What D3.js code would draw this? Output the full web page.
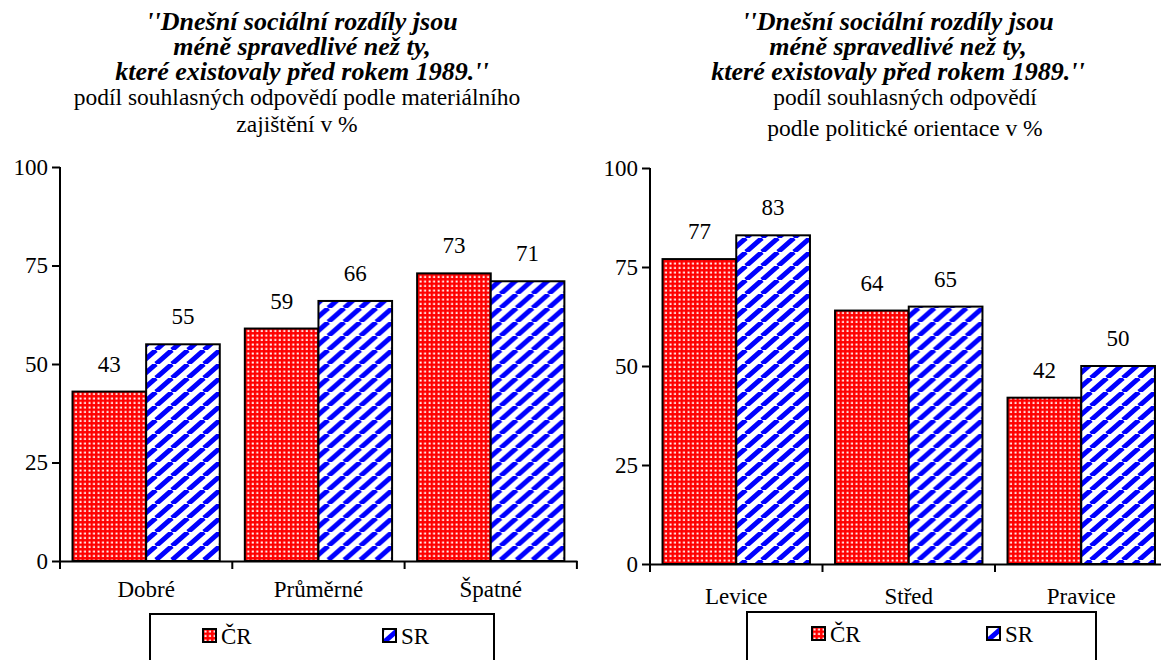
<!DOCTYPE html>
<html>
<head>
<meta charset="utf-8">
<script src="https://cdn.jsdelivr.net/npm/d3@7"></script>
<style>
  body { margin: 0; background: #fff; }
</style>
</head>
<body>
<script>
// Data
const seriesNames = ["ČR", "SR"];
const yTicks = [0, 25, 50, 75, 100];

const leftCategories = ["Dobré", "Průměrné", "Špatné"];
const leftCR = [43, 59, 73];
const leftSR = [55, 66, 71];
const leftTitle = ["''Dnešní sociální rozdíly jsou", "méně spravedlivé než ty,", "které existovaly před rokem 1989.''"];
const leftSubtitle = ["podíl souhlasných odpovědí podle materiálního", "zajištění v %"];

const rightCategories = ["Levice", "Střed", "Pravice"];
const rightCR = [77, 64, 42];
const rightSR = [83, 65, 50];
const rightTitle = ["''Dnešní sociální rozdíly jsou", "méně spravedlivé než ty,", "které existovaly před rokem 1989.''"];
const rightSubtitle = ["podíl souhlasných odpovědí", "podle politické orientace v %"];

// Size
const w = 1161, h = 660;
const serif = "Liberation Serif";

const svg = d3.select("body").append("svg")
  .attr("width", w)
  .attr("height", h);

// Patterns
const defs = svg.append("defs");

const dots = defs.append("pattern")
  .attr("id", "pat-cr")
  .attr("patternUnits", "userSpaceOnUse")
  .attr("width", 4.5)
  .attr("height", 4.5);
dots.append("rect").attr("width", 4.5).attr("height", 4.5).attr("fill", "#ff0000");
dots.append("rect").attr("x", 1.5).attr("y", 1.5).attr("width", 2).attr("height", 2).attr("fill", "#fff");

const pw = 16, ph = 14;
const stripes = defs.append("pattern")
  .attr("id", "pat-sr")
  .attr("patternUnits", "userSpaceOnUse")
  .attr("width", pw)
  .attr("height", ph);
stripes.append("rect").attr("width", pw).attr("height", ph).attr("fill", "#fff");
stripes.append("path")
  .attr("d", [-pw, 0, pw].map(o => `M${o},${ph} L${o + pw},0`).join(" "))
  .attr("stroke", "#0000ff")
  .attr("stroke-width", 5);

const fills = ["url(#pat-cr)", "url(#pat-sr)"];

// One chart
function drawChart(cfg) {
  const g = svg.append("g");

  const y = d3.scaleLinear().domain([0, 100]).range([cfg.y0, cfg.y100]);
  const x = d3.scaleBand()
    .domain(cfg.categories)
    .range([cfg.axisX, cfg.axisX + 3 * cfg.step]);
  const xs = d3.scaleBand()
    .domain(seriesNames)
    .range([0, x.bandwidth()])
    .paddingOuter(0.17);

  // titles
  g.selectAll(".title")
    .data(cfg.title)
    .enter()
    .append("text")
    .attr("x", cfg.cx)
    .attr("y", (d, i) => 30 + i * 25)
    .attr("text-anchor", "middle")
    .style("font-family", serif)
    .style("font-size", "26px")
    .style("font-weight", "bold")
    .style("font-style", "italic")
    .text(d => d);

  g.selectAll(".subtitle")
    .data(cfg.subtitle)
    .enter()
    .append("text")
    .attr("x", cfg.subX)
    .attr("y", (d, i) => 105 + i * cfg.subGap)
    .attr("text-anchor", "middle")
    .style("font-family", serif)
    .style("font-size", "23.5px")
    .text(d => d);

  // bars
  const rows = cfg.categories.map((c, i) => ({ cat: c, vals: [cfg.cr[i], cfg.sr[i]] }));

  const grp = g.selectAll(".grp")
    .data(rows)
    .enter()
    .append("g")
    .attr("transform", d => `translate(${x(d.cat)},0)`);

  const bars = grp.selectAll("g")
    .data(d => d.vals.map((v, j) => ({ s: seriesNames[j], v: v, j: j })))
    .enter()
    .append("g");

  bars.append("rect")
    .attr("x", d => xs(d.s))
    .attr("y", d => y(d.v))
    .attr("width", xs.bandwidth())
    .attr("height", d => y(0) - y(d.v))
    .attr("fill", d => fills[d.j])
    .attr("stroke", "#000")
    .attr("stroke-width", 2);

  bars.append("text")
    .attr("x", d => xs(d.s) + xs.bandwidth() / 2)
    .attr("y", d => y(d.v) - 20)
    .attr("text-anchor", "middle")
    .style("font-family", serif)
    .style("font-size", "23px")
    .text(d => d.v);

  // y axis
  const yAxis = g.append("g")
    .attr("transform", `translate(${cfg.axisX},0)`)
    .call(d3.axisLeft(y).tickValues(yTicks).tickSize(8).tickSizeOuter(0).tickPadding(4));
  yAxis.select(".domain").remove();
  yAxis.append("line")
    .attr("x1", 0).attr("x2", 0)
    .attr("y1", y(100)).attr("y2", y(0) + 8)
    .attr("stroke", "#000").attr("stroke-width", 2);
  yAxis.selectAll(".tick line").attr("stroke-width", 2);
  yAxis.selectAll("text")
    .style("font-family", serif)
    .style("font-size", "23px")
    .attr("fill", "#000");

  // x axis
  const xAxis = g.append("g")
    .attr("transform", `translate(0,${y(0)})`)
    .call(d3.axisBottom(x).tickSize(0).tickSizeOuter(0).tickPadding(cfg.labelPad));
  xAxis.select(".domain").attr("stroke-width", 2);
  xAxis.selectAll("text")
    .style("font-family", serif)
    .style("font-size", "23px")
    .attr("fill", "#000");
  xAxis.selectAll(".bound")
    .data(cfg.categories.slice(1).map(c => x(c)).concat([x.range()[1]]))
    .enter()
    .append("line")
    .attr("x1", d => d).attr("x2", d => d)
    .attr("y1", 0).attr("y2", 8)
    .attr("stroke", "#000").attr("stroke-width", 2);

  // legend
  const lg = g.append("g");
  lg.append("rect")
    .attr("x", cfg.legend.x)
    .attr("y", cfg.legend.y)
    .attr("width", cfg.legend.w)
    .attr("height", 80)
    .attr("fill", "none")
    .attr("stroke", "#000")
    .attr("stroke-width", 2);

  const items = lg.selectAll(".item")
    .data(seriesNames)
    .enter()
    .append("g")
    .attr("transform", (d, i) => `translate(${cfg.legend.x + cfg.legend.off[i]},${cfg.legend.y + 15})`);
  items.append("rect")
    .attr("width", 13).attr("height", 13)
    .attr("fill", (d, i) => fills[i])
    .attr("stroke", "#000").attr("stroke-width", 2);
  items.append("text")
    .attr("x", 18)
    .attr("y", 15)
    .style("font-family", serif)
    .style("font-size", "23px")
    .text(d => d);
}

drawChart({
  categories: leftCategories, cr: leftCR, sr: leftSR,
  title: leftTitle, subtitle: leftSubtitle,
  cx: 302, subX: 297, subGap: 27,
  axisX: 60, step: 172.3, y0: 561, y100: 167, labelPad: 20,
  legend: { x: 150, y: 614, w: 344, off: [53, 233] }
});

drawChart({
  categories: rightCategories, cr: rightCR, sr: rightSR,
  title: rightTitle, subtitle: rightSubtitle,
  cx: 898, subX: 905, subGap: 31,
  axisX: 650, step: 172.5, y0: 564, y100: 168, labelPad: 24,
  legend: { x: 747, y: 612, w: 349, off: [65, 240] }
});
</script>
</body>
</html>
